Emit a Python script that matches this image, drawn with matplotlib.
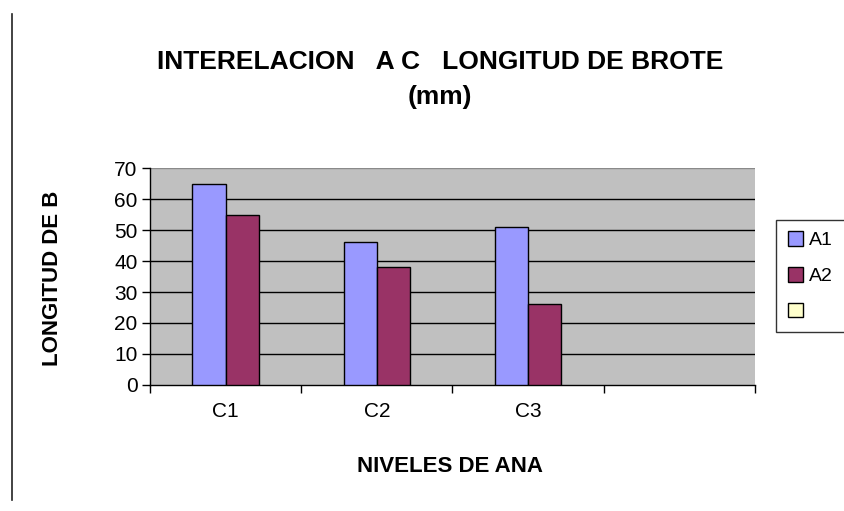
import matplotlib
matplotlib.use("Agg")
import matplotlib.pyplot as plt
from matplotlib.lines import Line2D
from matplotlib.patches import Patch
import numpy as np

plt.rcParams["font.family"] = ["Liberation Sans", "DejaVu Sans"]

# ── data ──────────────────────────────────────────────────────────────────────
categories = ["C1", "C2", "C3", ""]
a1_values  = [65, 46, 51]
a2_values  = [55, 38, 26]
series_names  = ["A1", "A2", ""]
series_colors = ["#9999FF", "#993366", "#FFFFCC"]
y_ticks = [0, 10, 20, 30, 40, 50, 60, 70]

PLOT_BG = "#C0C0C0"

fig = plt.figure(figsize=(8.45, 5.11), dpi=100)
fig.patch.set_facecolor("white")
ax = fig.add_axes([0.1775, 0.2466, 0.716, 0.4246])
ax.set_facecolor(PLOT_BG)

# thin vertical rule along the left of the page
fig.add_artist(Line2D([12 / 845, 12 / 845], [1 - 14 / 511, 1 - 500 / 511],
                      transform=fig.transFigure, color="#222222", linewidth=1.2))

n_cat = len(categories)
bar_w = 0.22
x_a = np.arange(len(a1_values))

ax.bar(x_a - bar_w / 2, a1_values, width=bar_w, color=series_colors[0],
       edgecolor="black", linewidth=1.0, zorder=3)
ax.bar(x_a + bar_w / 2, a2_values, width=bar_w, color=series_colors[1],
       edgecolor="black", linewidth=1.0, zorder=3)

ax.set_xlim(-0.5, n_cat - 0.5)
ax.set_ylim(0, 70)

# horizontal gridlines
for v in y_ticks[1:-1]:
    ax.axhline(v, color="black", linewidth=1.0, zorder=1)
ax.axhline(70, color="#8a8a8a", linewidth=1.0, zorder=1)

for side in ["top", "right"]:
    ax.spines[side].set_visible(False)
ax.spines["left"].set_linewidth(1.0)
ax.spines["bottom"].set_linewidth(1.0)

ax.set_yticks(y_ticks)
ax.set_yticklabels([str(v) for v in y_ticks], fontsize=15)
ax.tick_params(axis="y", direction="out", length=6, width=1, pad=3)

# category labels centred, tick marks on the boundaries
ax.set_xticks(np.arange(n_cat))
ax.set_xticklabels(categories, fontsize=15)
ax.tick_params(axis="x", length=0, pad=12)
ax.set_xticks(np.arange(n_cat + 1) - 0.5, minor=True)
ax.tick_params(axis="x", which="minor", direction="out", length=6, width=1)

fig.text(53 / 845, 1 - 278 / 511, "LONGITUD DE B", rotation=90,
         ha="center", va="center", fontsize=16, fontweight="bold")
fig.text(450 / 845, 1 - 466 / 511, "NIVELES DE ANA",
         ha="center", va="center", fontsize=16, fontweight="bold")

fig.text(440 / 845, 1 - 62 / 511, "INTERELACION   A C   LONGITUD DE BROTE",
         ha="center", va="center", fontsize=19, fontweight="bold")
fig.text(440 / 845, 1 - 97 / 511, "(mm)",
         ha="center", va="center", fontsize=19, fontweight="bold")

handles = [Patch(facecolor=c, edgecolor="black", linewidth=1.0) for c in series_colors]
leg = fig.legend(handles, series_names, loc="center left",
                 bbox_to_anchor=(776 / 845, 1 - 276 / 511),
                 fontsize=14, frameon=True, fancybox=False,
                 handlelength=0.8, handleheight=0.8, handletextpad=0.3,
                 labelspacing=0.9, borderpad=0.6, borderaxespad=0)
leg.get_frame().set_edgecolor("black")
leg.get_frame().set_linewidth(1.0)

fig.savefig("out.png", dpi=100, facecolor="white")
